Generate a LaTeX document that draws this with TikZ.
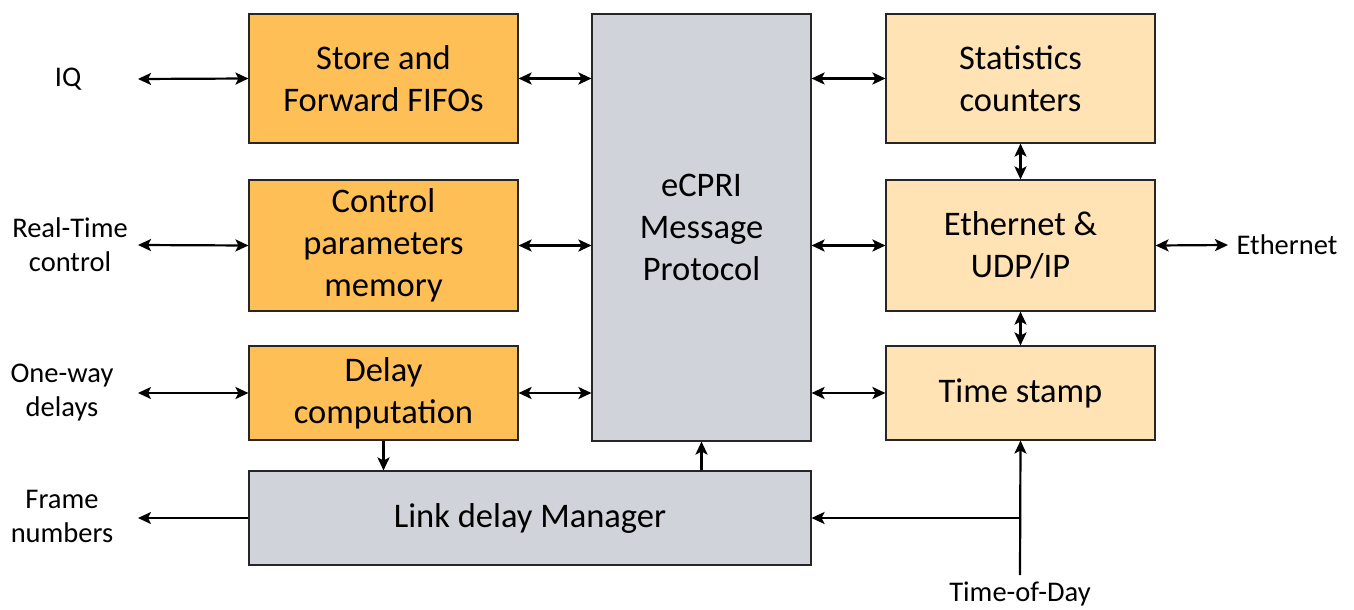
\documentclass[tikz,border=0pt]{standalone}
\usepackage{fontspec}
\setmainfont{Carlito}
\usetikzlibrary{arrows.meta}
\definecolor{orangebox}{HTML}{FFBF57}
\definecolor{lightbox}{HTML}{FFE3B4}
\definecolor{graybox}{HTML}{D0D3D9}
\begin{document}
\begin{tikzpicture}[x=1pt,y=-1pt,
  blk/.style={draw=black!85, line width=1.1pt, inner sep=0pt, align=center,
    font=\fontsize{34.5}{42}\selectfont},
  obox/.style={blk, fill=orangebox, minimum width=269pt},
  lbox/.style={blk, fill=lightbox, minimum width=269pt},
  gbox/.style={blk, fill=graybox},
  lbl/.style={align=center, inner sep=0pt, font=\fontsize{28.5}{34}\selectfont},
  tip/.tip={Stealth[length=13pt,width=12pt,inset=3pt]},
  dbl/.style={line width=2.2pt, tip-tip},
  sgl/.style={line width=2.2pt, -tip}
]
\useasboundingbox (0,0) rectangle (1354,610);

% left column
\node[obox, minimum height=129pt] (sf) at (383.5,78.5) {Store and\\Forward FIFOs};
\node[obox, minimum height=131pt] (cp) at (383.5,245.5) {Control\\parameters\\memory};
\node[obox, minimum height=94pt] (dc) at (383.5,393) {Delay\\computation};

% middle
\node[gbox, minimum width=219pt, minimum height=427pt] (ec) at (701.5,227.5) {eCPRI\\Message\\Protocol};

% right column
\node[lbox, minimum height=129pt] (st) at (1020.5,78.5) {Statistics\\counters};
\node[lbox, minimum height=131pt] (et) at (1020.5,245.5) {Ethernet \&\\UDP/IP};
\node[lbox, minimum height=94pt] (ts) at (1020.5,393) {Time stamp};

% bottom
\node[gbox, minimum width=562pt, minimum height=94pt] (ld) at (530,518) {Link delay Manager};

% outside labels
\node[lbl] (iq) at (68,79) {IQ};
\node[lbl] (rt) at (70,245) {Real-Time\\control};
\node[lbl] (ow) at (62,393) {One-way\\delays};
\node[lbl] (fn) at (62,516) {Frame\\numbers};
\node[lbl] (eth) at (1287,245) {Ethernet};
\node[lbl] (tod) at (1020,594) {Time-of-Day};

\coordinate (iqL) at (138,79);
\coordinate (rtL) at (138,245);
\coordinate (owL) at (138,393);
\coordinate (fnL) at (138,518);
\coordinate (ethR) at (1228,245);
\coordinate (todB) at (1020,575);

% left arrows
\draw[dbl] (iqL) -- (sf.west);
\draw[dbl] (rtL) -- (cp.west);
\draw[dbl] (owL) -- (dc.west);
\draw[sgl] (ld.west) -- (fnL);

% left column to eCPRI
\draw[dbl] (sf.east) -- (sf.east -| ec.west);
\draw[dbl] (cp.east) -- (cp.east -| ec.west);
\draw[dbl] (dc.east) -- (dc.east -| ec.west);

% eCPRI to right column
\draw[dbl] (st.west -| ec.east) -- (st.west);
\draw[dbl] (et.west -| ec.east) -- (et.west);
\draw[dbl] (ts.west -| ec.east) -- (ts.west);

% right vertical
\draw[dbl] (st.south) -- (et.north);
\draw[dbl] (et.south) -- (ts.north);
\draw[dbl] (et.east) -- (ethR);

% bottom connections
\draw[sgl] (dc.south) -- (dc.south |- ld.north);
\draw[sgl] (ec.south |- ld.north) -- (ec.south);
\draw[sgl] (todB) -- (ts.south);
\draw[sgl] (todB |- ld.east) -- (ld.east);
\end{tikzpicture}
\end{document}
